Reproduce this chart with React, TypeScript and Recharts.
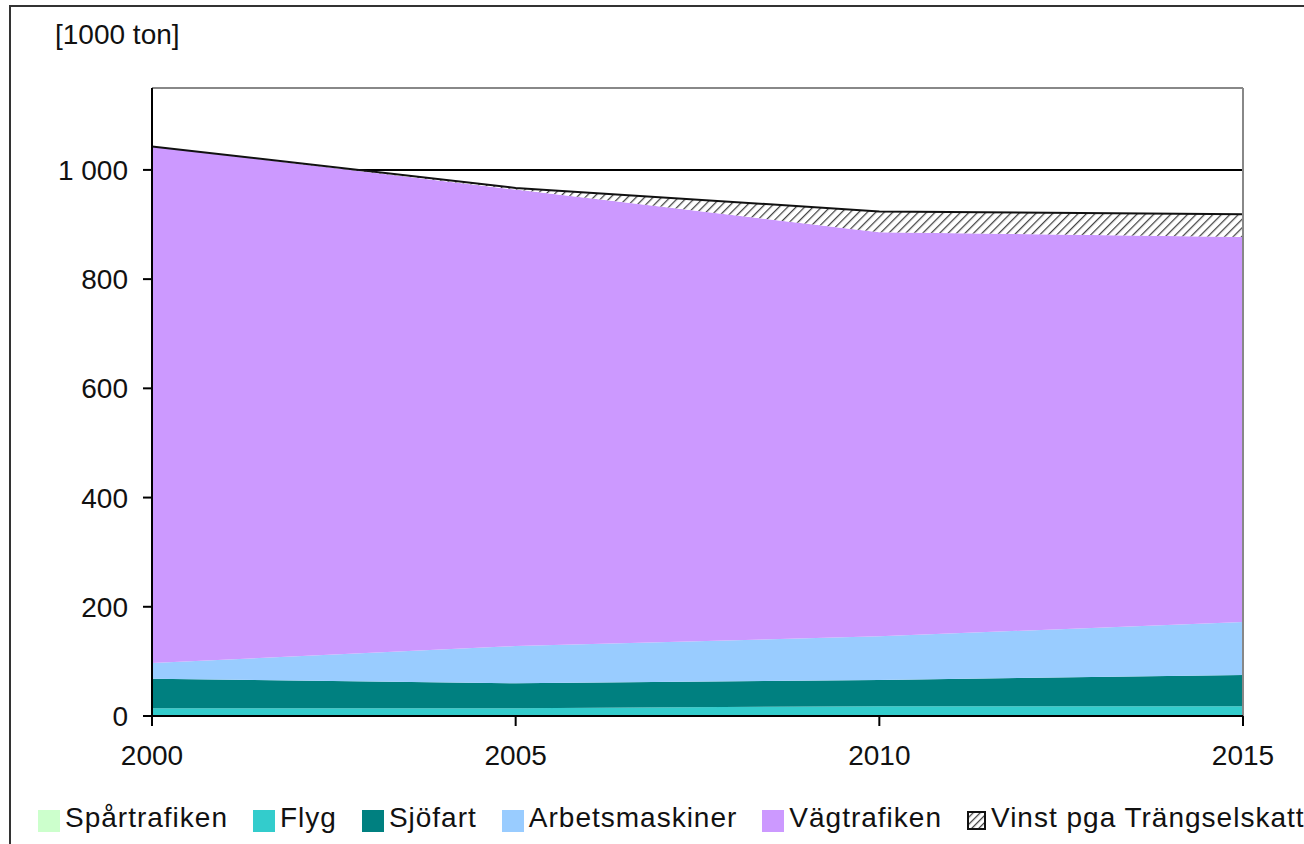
import React from 'react';
import {
  AreaChart, Area, XAxis, YAxis, CartesianGrid, ReferenceLine,
} from 'recharts';

// År och utsläpp per sektor [1000 ton], staplade
const years = [2000, 2005, 2010, 2015];
const spartrafiken = [2, 2, 2, 2];
const flyg = [12, 12, 16, 16];
const sjofart = [54, 46, 48, 57];
const arbetsmaskiner = [29, 68, 80, 97];
const vagtrafiken = [946, 836, 740, 705];
const vinst = [0, 3, 38, 42];

const yTicks = [0, 200, 400, 600, 800, 1000];

const series = [
  { key: 'spar', name: 'Spårtrafiken', color: '#ccffcc' },
  { key: 'flyg', name: 'Flyg', color: '#33cccc' },
  { key: 'sjo', name: 'Sjöfart', color: '#008080' },
  { key: 'arb', name: 'Arbetsmaskiner', color: '#99ccff' },
  { key: 'vag', name: 'Vägtrafiken', color: '#cc99ff' },
];

const data = years.map((y, i) => ({
  year: y,
  spar: spartrafiken[i],
  flyg: flyg[i],
  sjo: sjofart[i],
  arb: arbetsmaskiner[i],
  vag: vagtrafiken[i],
  vinst: vinst[i],
}));

const FONT = '"Liberation Sans", Arial, sans-serif';

const fmtY = (v: number) => (v >= 1000 ? v.toString().replace(/(\d)(?=(\d{3})+$)/g, '$1 ') : String(v));

function Hatch({ id, size = 6 }: { id: string; size?: number }) {
  return (
    <pattern id={id} patternUnits="userSpaceOnUse" width={size} height={size} patternTransform="rotate(45)">
      <rect width={size} height={size} fill="#ffffff" />
      <line x1={0} y1={0} x2={0} y2={size} stroke="#444" strokeWidth={2.5} />
    </pattern>
  );
}

export default function App() {
  return (
    <div style={styles.frame}>
      <div style={styles.unit}>[1000 ton]</div>
      <AreaChart
        width={1293}
        height={837}
        data={data}
        margin={{ top: 81, right: 61, left: 0, bottom: 68 }}
      >
        <defs>
          <Hatch id="hatch" />
        </defs>
        <CartesianGrid horizontal vertical={false} horizontalValues={[1000]} stroke="#000" strokeWidth={2} />
        <XAxis
          dataKey="year"
          type="number"
          domain={[2000, 2015]}
          ticks={years}
          height={60}
          tickSize={10}
          tickMargin={19}
          axisLine={{ stroke: '#000', strokeWidth: 2 }}
          tickLine={{ stroke: '#000', strokeWidth: 2 }}
          tick={{ fill: '#111', fontSize: 28, fontFamily: FONT }}
        />
        <YAxis
          type="number"
          domain={[0, 1150]}
          ticks={yTicks}
          width={141}
          tickSize={9}
          tickMargin={15}
          tickFormatter={fmtY}
          axisLine={{ stroke: '#000', strokeWidth: 2 }}
          tickLine={{ stroke: '#000', strokeWidth: 2 }}
          tick={{ fill: '#111', fontSize: 28, fontFamily: FONT }}
        />
        {series.map(s => (
          <Area
            key={s.key}
            type="linear"
            dataKey={s.key}
            name={s.name}
            stackId="1"
            fill={s.color}
            fillOpacity={1}
            stroke="none"
            isAnimationActive={false}
          />
        ))}
        <Area
          type="linear"
          dataKey="vinst"
          name="Vinst pga Trängselskatt"
          stackId="1"
          fill="url(#hatch)"
          fillOpacity={1}
          stroke="#111"
          strokeWidth={2}
          isAnimationActive={false}
        />
        <ReferenceLine y={1150} stroke="#888" strokeWidth={2} />
        <ReferenceLine x={2015} stroke="#888" strokeWidth={2} />
      </AreaChart>

      <div style={styles.legend}>
        {series.map(s => (
          <div key={s.key} style={styles.legendItem}>
            <span style={{ ...styles.swatch, background: s.color }} />
            <span>{s.name}</span>
          </div>
        ))}
        <div style={styles.legendItem}>
          <svg width={19} height={19} style={{ marginTop: 4 }}>
            <defs>
              <Hatch id="hatchLegend" size={5} />
            </defs>
            <rect x={1} y={1} width={17} height={17} fill="url(#hatchLegend)" stroke="#111" strokeWidth={2} />
          </svg>
          <span>Vinst pga Trängselskatt</span>
        </div>
      </div>
    </div>
  );
}

const styles: Record<string, React.CSSProperties> = {
  frame: {
    position: 'absolute',
    left: 9,
    top: 5,
    width: 1295,
    height: 839,
    boxSizing: 'border-box',
    borderTop: '2px solid #333',
    borderLeft: '2px solid #333',
    background: '#fff',
    overflow: 'hidden',
    fontFamily: FONT,
  },
  unit: {
    position: 'absolute',
    left: 44,
    top: 12,
    fontSize: 28,
    lineHeight: '32px',
    color: '#111',
  },
  legend: {
    position: 'absolute',
    left: 27,
    top: 795,
    height: 32,
    display: 'flex',
    alignItems: 'center',
    gap: 25,
    fontSize: 28,
    lineHeight: '32px',
    letterSpacing: 1,
    color: '#111',
    whiteSpace: 'nowrap',
  },
  legendItem: { display: 'flex', alignItems: 'center', gap: 5 },
  swatch: { display: 'inline-block', width: 22, height: 22, marginTop: 6 },
};
